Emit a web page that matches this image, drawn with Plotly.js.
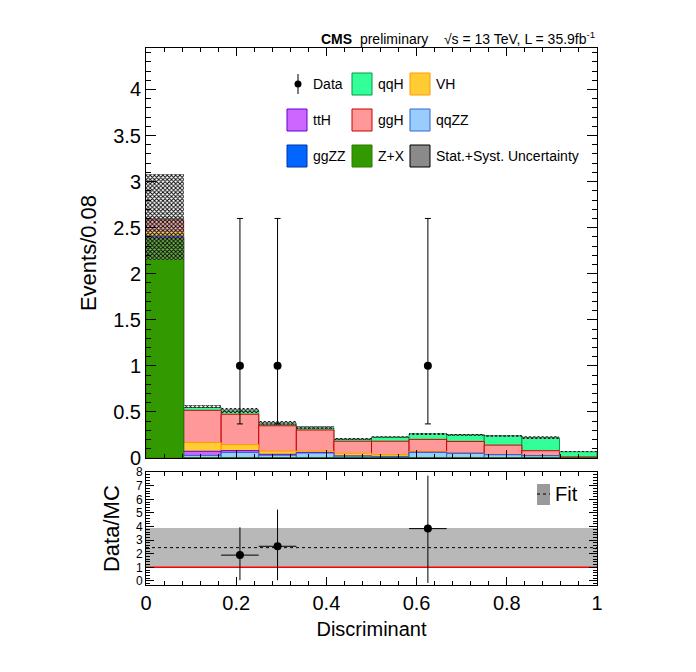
<!DOCTYPE html>
<html><head><meta charset="utf-8">
<script src="https://cdn.plot.ly/plotly-3.0.1.min.js"></script>
<style>body{margin:0;background:#fff}</style>
</head><body>
<div id="plot" style="width:696px;height:672px"></div>
<script>
// bin edges: 12 bins on [0,1]
var binEdges = [0, 1/12, 2/12, 3/12, 4/12, 5/12, 6/12, 7/12, 8/12, 9/12, 10/12, 11/12, 1];
var zx   = [2.38, 0, 0, 0, 0, 0, 0, 0, 0, 0, 0, 0];
var ggzz = [0.005, 0.003, 0.005, 0.005, 0.004, 0.003, 0.003, 0.004, 0.004, 0.004, 0.005, 0.003];
var qqzz = [0.01, 0.025, 0.055, 0.025, 0.05, 0.017, 0.012, 0.056, 0.046, 0.031, 0.02, 0.002];
var tth  = [0.01, 0.045, 0.02, 0.01, 0.005, 0.002, 0.002, 0.002, 0.001, 0.001, 0.001, 0.001];
var vh   = [0.05, 0.095, 0.065, 0.035, 0.015, 0.03, 0.02, 0.01, 0.004, 0.004, 0.003, 0.002];
var ggh  = [0.13, 0.35, 0.33, 0.275, 0.23, 0.13, 0.145, 0.13, 0.125, 0.10, 0.05, 0.005];
var qqh  = [0.01, 0.03, 0.035, 0.025, 0.025, 0.025, 0.045, 0.06, 0.075, 0.10, 0.14, 0.055];
var uncLow  = [2.15, 0.54, 0.49, 0.36, 0.31, 0.195, 0.215, 0.25, 0.24, 0.225, 0.21, 0.062];
var uncHigh = [3.08, 0.58, 0.54, 0.40, 0.35, 0.22, 0.24, 0.275, 0.265, 0.25, 0.235, 0.08];
var dataX = [0.2083, 0.2917, 0.625];
var dataY = [1, 1, 1];
var dataErrUp = [1.6, 1.6, 1.6];
var dataErrDn = [0.63, 0.63, 0.63];
var ratioY = [1.9, 2.55, 3.85];
var ratioErrUp = [2.05, 2.7, 3.9];
var ratioErrDn = [1.85, 2.5, 4.0];
var fitVal = 2.45, fitLow = 1.0, fitHigh = 3.9;

var centers = [], widths = [];
for (var i = 0; i < 12; i++) { centers.push((binEdges[i] + binEdges[i+1]) / 2); widths.push(binEdges[i+1] - binEdges[i]); }

var samples = [
  {name: 'Z+X', y: zx, fill: '#339900', line: '#2d7a00'},
  {name: 'ggZZ', y: ggzz, fill: '#0066ff', line: '#0033aa'},
  {name: 'qqZZ', y: qqzz, fill: '#99ccff', line: '#3366cc'},
  {name: 'ttH', y: tth, fill: '#cc66ff', line: '#6600cc'},
  {name: 'VH', y: vh, fill: '#ffcc33', line: '#ff9900'},
  {name: 'ggH', y: ggh, fill: '#ff9999', line: '#cc0000'},
  {name: 'qqH', y: qqh, fill: '#33ff99', line: '#009944'}
];
var cum = centers.map(function(){return 0;});
samples.forEach(function(s){ s.top = s.y.map(function(v, i){ cum[i] += v; return cum[i]; }); });

var traces = [];
samples.slice().reverse().forEach(function(s){
  traces.push({type: 'bar', x: centers, y: s.top, width: widths, marker: {color: s.fill, line: {color: s.line, width: 1}},
    showlegend: false, hoverinfo: 'skip', xaxis: 'x', yaxis: 'y'});
});
traces.push({type: 'bar', x: centers, base: uncLow, y: uncHigh.map(function(h, i){return h - uncLow[i];}), width: widths,
  marker: {color: 'rgba(0,0,0,0)', line: {width: 0}, pattern: {shape: 'x', fgcolor: '#000', bgcolor: 'rgba(255,255,255,0.3)', size: 3, solidity: 0.5}},
  showlegend: false, hoverinfo: 'skip', xaxis: 'x', yaxis: 'y'});
traces.push({type: 'scatter', mode: 'markers', x: dataX, y: dataY,
  error_y: {type: 'data', symmetric: false, array: dataErrUp, arrayminus: dataErrDn, color: '#000', thickness: 1, width: 3},
  marker: {color: '#000', size: 8}, showlegend: false, xaxis: 'x', yaxis: 'y'});

// ratio panel
traces.push({type: 'scatter', mode: 'lines', x: [0, 1, 1, 0, 0], y: [fitLow, fitLow, fitHigh, fitHigh, fitLow], fill: 'toself',
  fillcolor: '#b8b8b8', line: {width: 0}, showlegend: false, hoverinfo: 'skip', xaxis: 'x2', yaxis: 'y2'});
traces.push({type: 'scatter', mode: 'lines', x: [0, 1], y: [fitVal, fitVal], line: {color: '#000', width: 1, dash: 'dot'},
  showlegend: false, xaxis: 'x2', yaxis: 'y2'});
traces.push({type: 'scatter', mode: 'lines', x: [0, 1], y: [1, 1], line: {color: '#ff0000', width: 1.5},
  showlegend: false, xaxis: 'x2', yaxis: 'y2'});
traces.push({type: 'scatter', mode: 'markers', x: dataX, y: ratioY,
  error_y: {type: 'data', symmetric: false, array: ratioErrUp, arrayminus: ratioErrDn, color: '#000', thickness: 1, width: 0},
  error_x: {type: 'constant', value: 1/24, color: '#000', thickness: 1, width: 0},
  marker: {color: '#000', size: 8}, showlegend: false, xaxis: 'x2', yaxis: 'y2'});

var f = {family: 'Liberation Sans, Arial, sans-serif', color: '#000'};
var axBase = {ticks: 'inside', mirror: 'ticks', showline: true, linecolor: '#000', linewidth: 1, showgrid: false, zeroline: false,
  tickcolor: '#000', tickfont: {family: f.family, size: 20, color: '#000'}};

// manual legend (positions in figure pixels)
var legItems = [
  {name: 'Data', col: 0, row: 0, kind: 'data'},
  {name: 'qqH', col: 1, row: 0, fill: '#33ff99', line: '#009944'},
  {name: 'VH', col: 2, row: 0, fill: '#ffcc33', line: '#ff9900'},
  {name: 'ttH', col: 0, row: 1, fill: '#cc66ff', line: '#6600cc'},
  {name: 'ggH', col: 1, row: 1, fill: '#ff9999', line: '#cc0000'},
  {name: 'qqZZ', col: 2, row: 1, fill: '#99ccff', line: '#3366cc'},
  {name: 'ggZZ', col: 0, row: 2, fill: '#0066ff', line: '#0033aa'},
  {name: 'Z+X', col: 1, row: 2, fill: '#339900', line: '#2d7a00'},
  {name: 'Stat.+Syst. Uncertainty', col: 2, row: 2, fill: '#8a8a8a', line: '#000'}
];
var colX = [287, 352, 410], rowY = [84, 120, 156];
var shapes = [], annotations = [];
function px(x){return (x - 146) / 451;} function py(y){return (585 - y) / 537;}
legItems.forEach(function(it){
  var x0 = colX[it.col], yc = rowY[it.row];
  if (it.kind === 'data') {
    shapes.push({type: 'line', xref: 'paper', yref: 'paper', x0: px(x0 + 11), x1: px(x0 + 11), y0: py(yc - 10), y1: py(yc + 10), line: {color: '#000', width: 1}});
    shapes.push({type: 'circle', xref: 'paper', yref: 'paper', x0: px(x0 + 7.5), x1: px(x0 + 14.5), y0: py(yc - 3.5), y1: py(yc + 3.5), fillcolor: '#000', line: {width: 0}});
  } else {
    shapes.push({type: 'rect', xref: 'paper', yref: 'paper', x0: px(x0), x1: px(x0 + 20), y0: py(yc - 11), y1: py(yc + 11), fillcolor: it.fill, line: {color: it.line, width: 1}});
  }
  annotations.push({xref: 'paper', yref: 'paper', x: px(x0 + 24), y: py(yc), xanchor: 'left', yanchor: 'middle', showarrow: false,
    text: it.name, font: {family: f.family, size: 14, color: '#000'}});
});
// fit legend in ratio
shapes.push({type: 'rect', xref: 'paper', yref: 'paper', x0: px(537), x1: px(550), y0: py(484), y1: py(505), fillcolor: '#9a9a9a', line: {width: 0}});
shapes.push({type: 'line', xref: 'paper', yref: 'paper', x0: px(537), x1: px(550), y0: py(494), y1: py(494), line: {color: '#000', width: 1, dash: 'dot'}});
annotations.push({xref: 'paper', yref: 'paper', x: px(553), y: py(494), xanchor: 'left', yanchor: 'middle', showarrow: false,
  text: 'Fit', font: {family: f.family, size: 20, color: '#000'}});
annotations.push({xref: 'paper', yref: 'paper', x: px(597), y: py(38), xanchor: 'right', yanchor: 'middle', showarrow: false,
  text: '<b>CMS</b>  preliminary    √s = 13 TeV, L = 35.9fb<sup>-1</sup>', font: {family: f.family, size: 14, color: '#000'}});

var layout = {
  width: 696, height: 672, paper_bgcolor: '#fff', plot_bgcolor: '#fff',
  margin: {l: 146, r: 99, t: 48, b: 87},
  barmode: 'overlay', bargap: 0, font: f,
  xaxis: Object.assign({}, axBase, {range: [0, 1], domain: [0, 1], anchor: 'y', showticklabels: false, dtick: 0.2, minor: {ticks: 'inside', dtick: 0.04, ticklen: 4}, ticklen: 8}),
  yaxis: Object.assign({}, axBase, {range: [0, 4.45], domain: [0.2365, 1], anchor: 'x', dtick: 0.5, ticklen: 10, minor: {ticks: 'inside', dtick: 0.1, ticklen: 5},
    title: {text: 'Events/0.08', font: {family: f.family, size: 22, color: '#000'}, standoff: 10}}),
  xaxis2: Object.assign({}, axBase, {range: [0, 1], domain: [0, 1], anchor: 'y2', dtick: 0.2, ticklen: 8, minor: {ticks: 'inside', dtick: 0.04, ticklen: 4},
    title: {text: 'Discriminant', font: {family: f.family, size: 20, color: '#000'}, standoff: 8}}),
  yaxis2: Object.assign({}, axBase, {range: [-0.3, 8], domain: [0, 0.21], anchor: 'x2', dtick: 1, ticklen: 8, tickfont: {family: f.family, size: 12, color: '#000'},
    minor: {ticks: 'inside', dtick: 0.2, ticklen: 4},
    title: {text: 'Data/MC', font: {family: f.family, size: 22, color: '#000'}, standoff: 10}}),
  shapes: shapes, annotations: annotations
};
Plotly.newPlot('plot', traces, layout, {staticPlot: true});
</script>
</body></html>
